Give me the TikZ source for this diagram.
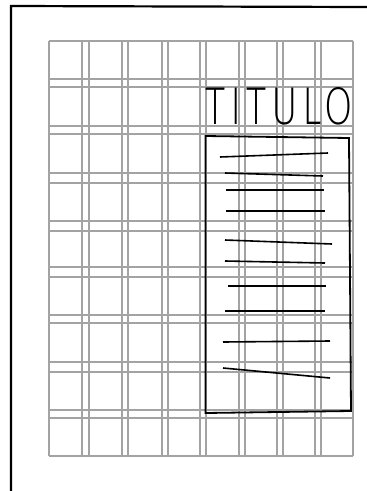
\documentclass[tikz,border=0pt]{standalone}
\usepackage{fontspec}
\usepackage{graphicx}
\newfontfamily\tfont[LetterSpace=12]{Fira Sans ExtraLight}
\begin{document}
\begin{tikzpicture}[x=1pt,y=-1pt,
  gridline/.style={draw=black!36,line width=1.3pt},
  ink/.style={draw=black,line width=1.8pt},
  frameline/.style={draw=black,line width=2.2pt}]
\useasboundingbox (0,0) rectangle (367,491);
% outer frame
\coordinate (ftl) at (11,6);
\coordinate (ftr) at (367,7);
\coordinate (fbl) at (11,491);
\draw[frameline] (fbl) -- (ftl) -- (ftr);
% grid
\foreach \y in {41,79,87,126,134,173,183,221,231,267,277,315,323,362,372,410,418,456}
  \draw[gridline] (49,\y) -- (353,\y);
\foreach \x in {49,82,89,122,128,162,168,200,206,239,245,277,283,315,321,353}
  \draw[gridline] (\x,41) -- (\x,456);
% title
\node[anchor=south west,inner sep=0] (title) at (205,125.5)
  {\resizebox{148pt}{37pt}{\tfont TITULO}};
% text box
\coordinate (b1) at (205.5,136);
\coordinate (b2) at (349,138);
\coordinate (b3) at (351,411);
\coordinate (b4) at (205.5,413);
\draw[ink] (b1) -- (b2) -- (b3) -- (b4) -- cycle;
% text lines
\foreach \xa/\ya/\xb/\yb in {220/157/328/153, 225/173/323/176, 226/190/324/190,
  226/211/325/211, 225/240/332/244, 225/261/325/263, 228/286/326/286,
  225/311/325/311, 223/342/330/341, 223/368/330/378}
  \draw[ink,line width=1.6pt] (\xa,\ya) -- (\xb,\yb);
\end{tikzpicture}
\end{document}
